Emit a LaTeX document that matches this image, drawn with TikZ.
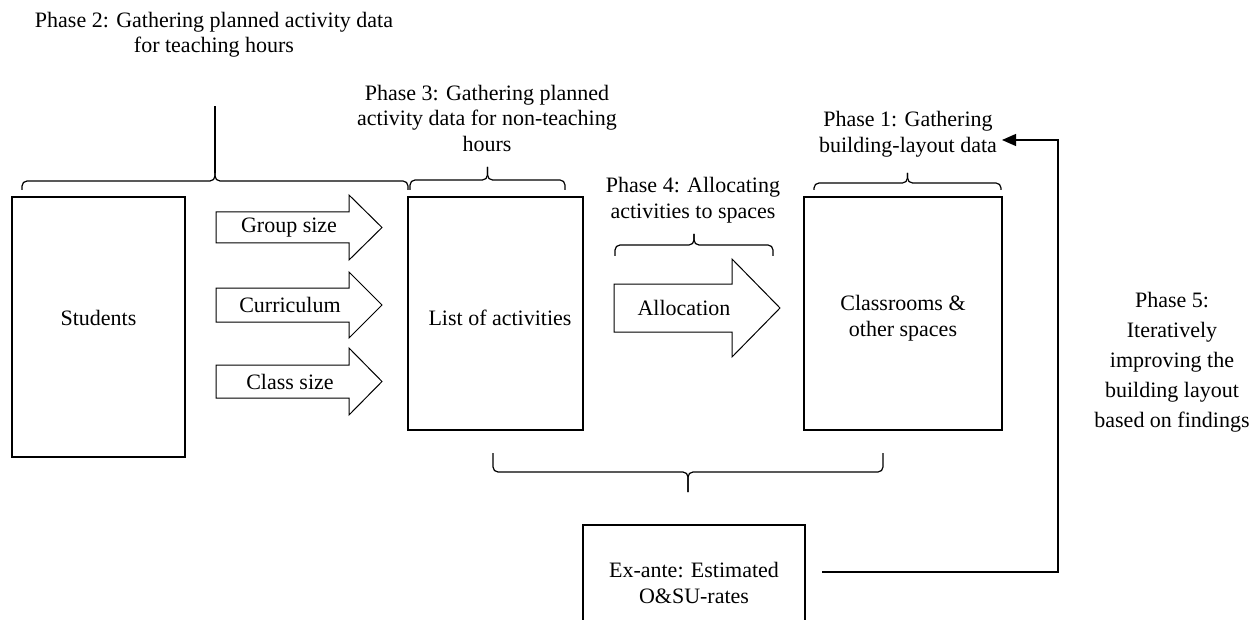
\documentclass[tikz,border=0pt]{standalone}
\usepackage{fontspec}
\setmainfont{Liberation Serif}
\usetikzlibrary{arrows.meta}
\newcommand\barr[8]{%
  \draw[barrow] (#1,#2) -- (#4,#2) -- (#4,#5) -- (#7,#8) -- (#4,#6) -- (#4,#3) -- (#1,#3) -- cycle;}
\newcommand\brc[5]{%
  \draw[bracestyle] (#1,#3) -- (#1,#4) -- ({(#1+#2)/2},#4) -- ({(#1+#2)/2},#5);
  \draw[bracestyle] (#2,#3) -- (#2,#4) -- ({(#1+#2)/2},#4) -- ({(#1+#2)/2},#5);}
\begin{document}
\begin{tikzpicture}[x=1pt,y=-1pt,
  txt/.style={font=\fontsize{22}{25.5}\selectfont, align=center, inner sep=0pt},
  box/.style={draw, line width=2pt, inner sep=0pt},
  barrow/.style={draw, line width=1pt, fill=white, line join=miter},
  bracestyle/.style={line width=1.2pt, rounded corners=5pt},
  conn/.style={line width=1.2pt}]
\useasboundingbox (0,0) rectangle (1260,620);

% boxes
\node[box, minimum width=173pt, minimum height=260pt] (students) at (98.5,327) {};
\node[txt] (studentsT) at (98.5,318) {Students};
\node[box, minimum width=175pt, minimum height=233pt] (list) at (495.5,313.5) {};
\node[txt] (listT) at (500,318) {List of activities};
\node[box, minimum width=198pt, minimum height=233pt] (rooms) at (903,313.5) {};
\node[txt] (roomsT) at (903,318) {Classrooms \&\\other spaces};
\draw[line width=2pt] (583,630) -- (583,525) -- (805,525) -- (805,630);
\node[txt] (exante) at (694,583) {Ex-ante: Estimated\\O\&SU-rates};

% block arrows
\barr{216}{212}{243}{349}{195}{260}{382}{227.5}
\node[txt] (group) at (289,228) {Group size};
\barr{216}{288}{322}{349}{272}{338}{382}{305}
\node[txt] (curr) at (290,305) {Curriculum};
\barr{216}{365}{398}{349}{348}{415}{382}{381.5}
\node[txt] (class) at (290,381.5) {Class size};
\barr{614}{284}{332}{732}{259}{357}{780}{308}
\node[txt] (alloc) at (684,308) {Allocation};

% phase labels
\node[txt] (p2) at (214,34.5) {Phase 2: Gathering planned activity data\\for teaching hours};
\node[txt] (p3) at (487,118) {Phase 3: Gathering planned\\activity data for non-teaching\\hours};
\node[txt] (p1) at (908,134) {Phase 1: Gathering\\building-layout data};
\node[txt] (p4) at (693,200) {Phase 4: Allocating\\activities to spaces};
\node[txt, font=\fontsize{22}{30}\selectfont] (p5) at (1172,362) {Phase 5:\\Iteratively\\improving the\\building layout\\based on findings};

% braces
\brc{22}{408}{190}{181}{172}
\draw[conn] (215,173) -- (215,106);
\brc{410}{565}{190}{180}{167}
\brc{615}{773}{256}{245}{234}
\brc{814}{1001}{190}{183}{173}
\brc{493}{883}{453}{472}{492}

% feedback connector
\coordinate (exR) at (822,572);
\coordinate (p1R) at (1002,140);
\draw[conn, -{Triangle[length=14pt,width=12pt]}] (exR) -- (1058,572) -- (1058,140) -- (p1R);
\end{tikzpicture}
\end{document}
